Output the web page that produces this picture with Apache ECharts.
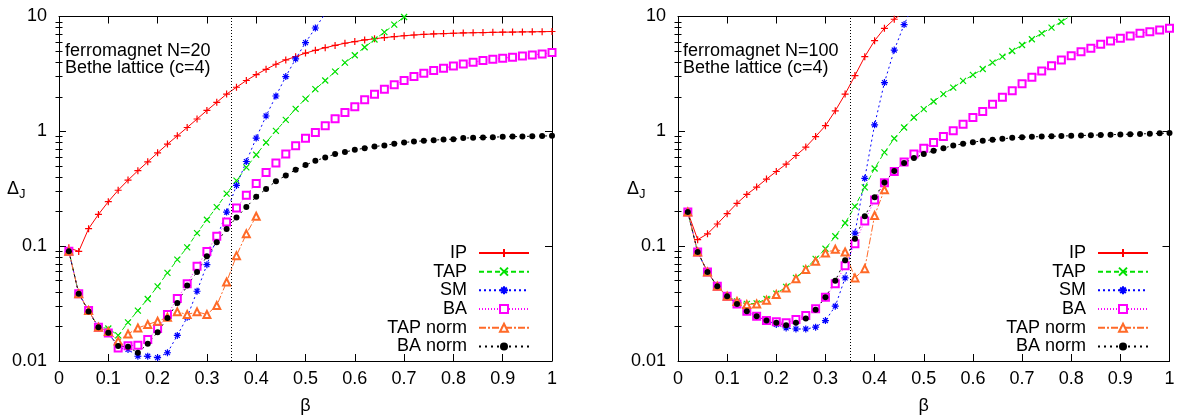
<!DOCTYPE html>
<html><head><meta charset="utf-8">
<script src="https://cdn.jsdelivr.net/npm/echarts@6/dist/echarts.min.js"></script>
<style>html,body{margin:0;padding:0;background:#fff}#c{width:1178px;height:416px}</style>
</head><body><div id="c"></div><script>
// ---------- data ----------
const beta = [0.02,0.04,0.06,0.08,0.10,0.12,0.14,0.16,0.18,0.20,
              0.22,0.24,0.26,0.28,0.30,0.32,0.34,0.36,0.38,0.40,
              0.42,0.44,0.46,0.48,0.50,0.52,0.54,0.56,0.58,0.60,
              0.62,0.64,0.66,0.68,0.70,0.72,0.74,0.76,0.78,0.80,
              0.82,0.84,0.86,0.88,0.90,0.92,0.94,0.96,0.98,1.00];
const criticalBeta = 0.3466;
const seriesNames = ['IP','TAP','SM','BA','TAP norm','BA norm'];

// ferromagnet N=20
const n20IP = [0.097,0.090,0.142,0.189,0.244,0.307,0.376,0.454,0.543,0.65,
               0.774,0.914,1.08,1.28,1.52,1.79,2.11,2.42,2.77,3.12,
               3.47,3.84,4.19,4.47,4.8,5.08,5.35,5.6,5.85,6.05,
               6.25,6.4,6.55,6.68,6.8,6.9,6.98,7.05,7.1,7.15,
               7.19,7.22,7.25,7.28,7.3,7.32,7.34,7.36,7.38,7.4];
const n20TAP = [0.0914,0.0386,0.0275,0.0197,0.0192,0.0167,0.0217,0.0275,0.0347,0.0447,
                0.0585,0.0763,0.0977,0.130,0.170,0.219,0.287,0.372,0.485,0.625,
                0.80,1.01,1.26,1.57,1.92,2.33,2.77,3.31,3.96,4.6,
                5.4,6.3,7.3,8.5,9.9,11.5];
const n20SM = [0.0905,0.0386,0.0275,0.0197,0.0178,0.0130,0.0126,0.0110,0.0110,0.0107,
               0.0118,0.0167,0.024,0.0405,0.069,0.118,0.198,0.338,0.546,0.873,
               1.36,2.03,3.0,4.27,5.92,7.94,10.6];
const n20BA = [0.0905,0.0386,0.0275,0.0197,0.0175,0.0130,0.0136,0.0137,0.0154,0.0192,
               0.0254,0.035,0.047,0.0668,0.090,0.122,0.162,0.215,0.277,0.352,
               0.438,0.529,0.634,0.748,0.87,0.977,1.12,1.29,1.46,1.64,
               1.88,2.10,2.33,2.54,2.77,3.0,3.21,3.38,3.54,3.71,
               3.86,4.0,4.13,4.25,4.33,4.42,4.54,4.63,4.72,4.85];
const n20TAPnorm = [0.0905,0.0386,0.0275,0.0197,0.0181,0.0149,0.0172,0.0194,0.0208,0.0222,
                    0.024,0.0268,0.0254,0.0268,0.0254,0.0304,0.0488,0.0827,0.128,0.182];
const n20BAnorm = [0.0905,0.0386,0.027,0.0197,0.0176,0.0135,0.0133,0.0118,0.0141,0.0178,
                   0.0237,0.032,0.0454,0.0596,0.0816,0.108,0.141,0.178,0.219,0.269,
                   0.315,0.368,0.413,0.463,0.508,0.554,0.592,0.634,0.66,0.69,
                   0.714,0.738,0.753,0.779,0.80,0.815,0.827,0.838,0.849,0.855,
                   0.873,0.878,0.884,0.89,0.896,0.90,0.90,0.908,0.91,0.914];

// ferromagnet N=100
const n100IP = [0.198,0.114,0.128,0.156,0.192,0.236,0.282,0.327,0.384,0.447,
                0.518,0.616,0.729,0.90,1.12,1.51,2.11,3.06,4.47,6.16,
                7.89,9.46,11.0];
const n100TAP = [0.198,0.089,0.0597,0.0447,0.0366,0.0331,0.0314,0.0318,0.0347,0.0386,
                 0.0442,0.0529,0.0637,0.0774,0.095,0.122,0.159,0.222,0.325,0.475,
                 0.656,0.866,1.08,1.32,1.56,1.82,2.11,2.40,2.75,3.10,
                 3.49,3.96,4.47,5.01,5.65,6.34,7.14,8.0,9.0,10.2];
const n100SM = [0.198,0.089,0.0597,0.0447,0.0366,0.0314,0.0271,0.0245,0.0225,0.0208,
                0.0194,0.019,0.019,0.0197,0.0225,0.030,0.0529,0.13,0.39,1.14,
                2.66,5.1,8.5,13.0];
const n100BA = [0.198,0.089,0.0597,0.0447,0.0366,0.0314,0.0271,0.0245,0.0225,0.022,
                0.0215,0.023,0.0249,0.0285,0.0359,0.047,0.0676,0.105,0.166,0.252,
                0.357,0.448,0.54,0.634,0.714,0.80,0.90,1.01,1.15,1.32,
                1.49,1.72,1.98,2.26,2.59,2.96,3.36,3.73,4.19,4.56,
                4.94,5.29,5.73,6.12,6.46,6.76,7.14,7.38,7.63,7.89];
const n100TAPnorm = [0.198,0.089,0.0597,0.0447,0.0366,0.033,0.031,0.0314,0.0338,0.0379,
                     0.0433,0.0521,0.0625,0.0738,0.0873,0.094,0.089,0.0529,0.0637,0.185,
                     0.31];
const n100BAnorm = [0.198,0.089,0.0597,0.0447,0.0366,0.0314,0.0271,0.0245,0.0225,0.0215,
                    0.0205,0.0215,0.0234,0.028,0.0359,0.050,0.0753,0.116,0.182,0.267,
                    0.359,0.452,0.529,0.585,0.634,0.677,0.714,0.753,0.779,0.805,
                    0.827,0.844,0.861,0.878,0.89,0.895,0.90,0.905,0.91,0.915,
                    0.92,0.925,0.93,0.935,0.94,0.945,0.95,0.955,0.96,0.965];

const xTickLabels = ['0','0.1','0.2','0.3','0.4','0.5','0.6','0.7','0.8','0.9','1'];
const yTickLabels = ['0.01','0.1','1','10'];
const yMinorTicks = [0.02,0.03,0.04,0.05,0.06,0.07,0.08,0.09,
                     0.2,0.3,0.4,0.5,0.6,0.7,0.8,0.9,
                     2,3,4,5,6,7,8,9];
const panelText = [['ferromagnet N=20','Bethe lattice (c=4)'],
                   ['ferromagnet N=100','Bethe lattice (c=4)']];
const panels = [
  [n20IP, n20TAP, n20SM, n20BA, n20TAPnorm, n20BAnorm],
  [n100IP, n100TAP, n100SM, n100BA, n100TAPnorm, n100BAnorm]
];

// ---------- styles ----------
const FONT = '"Liberation Sans", Arial, Helvetica, sans-serif';
const styles = {
  'IP':       {color:'#ff0000', type:'solid',   symbol:'path://M5,0L5,10M0,5L10,5', size:7},
  'TAP':      {color:'#00e000', type:[5,3],     symbol:'path://M0,0L10,10M10,0L0,10', size:6},
  'SM':       {color:'#0000ff', type:[2,3],     symbol:'path://M5,0L5,10M0,5L10,5M1.5,1.5L8.5,8.5M8.5,1.5L1.5,8.5', size:7},
  'BA':       {color:'#ff00ff', type:[1,2],     symbol:'emptyRect', size:7},
  'TAP norm': {color:'#ff6a28', type:[7,2,2,2], symbol:'emptyTriangle', size:7},
  'BA norm':  {color:'#000000', type:[2,4],     symbol:'circle', size:6}
};
const grids = [
  {left:59, top:16.5, width:493, height:344.5, outerBoundsMode:'none', containLabel:false},
  {left:678, top:16.5, width:491.5, height:344.5, outerBoundsMode:'none', containLabel:false}
];
const legendLeft = [357, 976];
const textLeft = [65, 683];
const deltaLeft = [7, 627];

const lineAx = {color:'#000', width:1};
const xAxes = [], yAxes = [], series = [], legends = [], graphics = [];

grids.forEach((g, gi) => {
  xAxes.push({gridIndex:gi, type:'value', min:0, max:1, interval:0.1, position:'bottom',
    axisLine:{show:true, onZero:false, lineStyle:lineAx},
    axisTick:{show:true, inside:true, length:7, lineStyle:lineAx},
    axisLabel:{show:true, margin:9, fontSize:18, fontFamily:FONT, color:'#000',
      showMinLabel:true, showMaxLabel:true,
      formatter: v => xTickLabels[Math.round(v*10)]},
    splitLine:{show:false},
    name:'β', nameLocation:'middle', nameGap:36,
    nameTextStyle:{fontSize:18, fontFamily:FONT, color:'#000'}});
  xAxes.push({gridIndex:gi, type:'value', min:0, max:1, interval:0.1, position:'top',
    axisLine:{show:true, onZero:false, lineStyle:lineAx},
    axisTick:{show:true, inside:true, length:7, lineStyle:lineAx},
    axisLabel:{show:false}, splitLine:{show:false}});
  const yb = {gridIndex:gi, type:'log', logBase:10, min:0.01, max:10, splitLine:{show:false}};
  yAxes.push(Object.assign({}, yb, {position:'left',
    axisLine:{show:true, onZero:false, lineStyle:lineAx},
    axisTick:{show:true, inside:true, length:7, lineStyle:lineAx},
    axisLabel:{show:true, margin:12, fontSize:18, fontFamily:FONT, color:'#000',
      formatter: v => yTickLabels[Math.round(Math.log10(v)) + 2]}}));
  yAxes.push(Object.assign({}, yb, {position:'left',
    axisLine:{show:false},
    axisTick:{show:true, inside:true, length:3.5, lineStyle:lineAx, customValues:yMinorTicks},
    axisLabel:{show:false}}));
  yAxes.push(Object.assign({}, yb, {position:'right',
    axisLine:{show:true, onZero:false, lineStyle:lineAx},
    axisTick:{show:true, inside:true, length:7, lineStyle:lineAx},
    axisLabel:{show:false}}));
  yAxes.push(Object.assign({}, yb, {position:'right',
    axisLine:{show:false},
    axisTick:{show:true, inside:true, length:3.5, lineStyle:lineAx, customValues:yMinorTicks},
    axisLabel:{show:false}}));

  seriesNames.forEach((name, si) => {
    const s = styles[name];
    const vals = panels[gi][si];
    const isPath = s.symbol.indexOf('path') === 0;
    const ser = {
      name: name, type:'line', xAxisIndex: gi*2, yAxisIndex: gi*4,
      data: vals.map((v, i) => [beta[i], v]),
      symbol: s.symbol, symbolSize: s.size, showSymbol: true, showAllSymbol: true,
      lineStyle: {color: s.color, width: 1, type: s.type},
      itemStyle: isPath ? {color: s.color, borderColor: s.color, borderWidth: 1.2}
                        : (s.symbol.indexOf('empty') === 0 ? {color: s.color, borderColor: s.color, borderWidth: 1.2}
                                                           : {color: s.color}),
      emphasis: {disabled: true}, clip: true, animation: false
    };
    if (si === 0) {
      ser.markLine = {silent:true, symbol:['none','none'], animation:false,
        label:{show:false}, emphasis:{disabled:true},
        lineStyle:{color:'#000', type:[1,2], width:1},
        data:[{xAxis: criticalBeta}]};
    }
    series.push(ser);
  });

  legends.push({data: seriesNames, orient:'vertical', left: legendLeft[gi], top: 243.6,
    padding: 0, itemGap: 0, itemWidth: 50, itemHeight: 10, align: 'right',
    selectedMode: false,
    textStyle: {fontSize: 18, fontFamily: FONT, color: '#000', width: 110, align: 'right',
      lineHeight: 18.7, padding: [0, 7, 0, 0]}});

  graphics.push({type:'text', left: textLeft[gi], top: 42,
    style:{text: panelText[gi][0], font: '18px ' + FONT, fill:'#000'}});
  graphics.push({type:'text', left: textLeft[gi], top: 59,
    style:{text: panelText[gi][1], font: '18px ' + FONT, fill:'#000'}});
  graphics.push({type:'text', left: deltaLeft[gi], top: 180,
    style:{text: 'Δ', font: '18px ' + FONT, fill:'#000'}});
  graphics.push({type:'text', left: deltaLeft[gi] + 12, top: 188,
    style:{text: 'J', font: '13px ' + FONT, fill:'#000'}});
});

const chart = echarts.init(document.getElementById('c'), null, {renderer:'canvas'});
chart.setOption({
  animation: false,
  backgroundColor: '#fff',
  grid: grids,
  xAxis: xAxes,
  yAxis: yAxes,
  legend: legends,
  graphic: graphics,
  series: series
});
</script></body></html>
